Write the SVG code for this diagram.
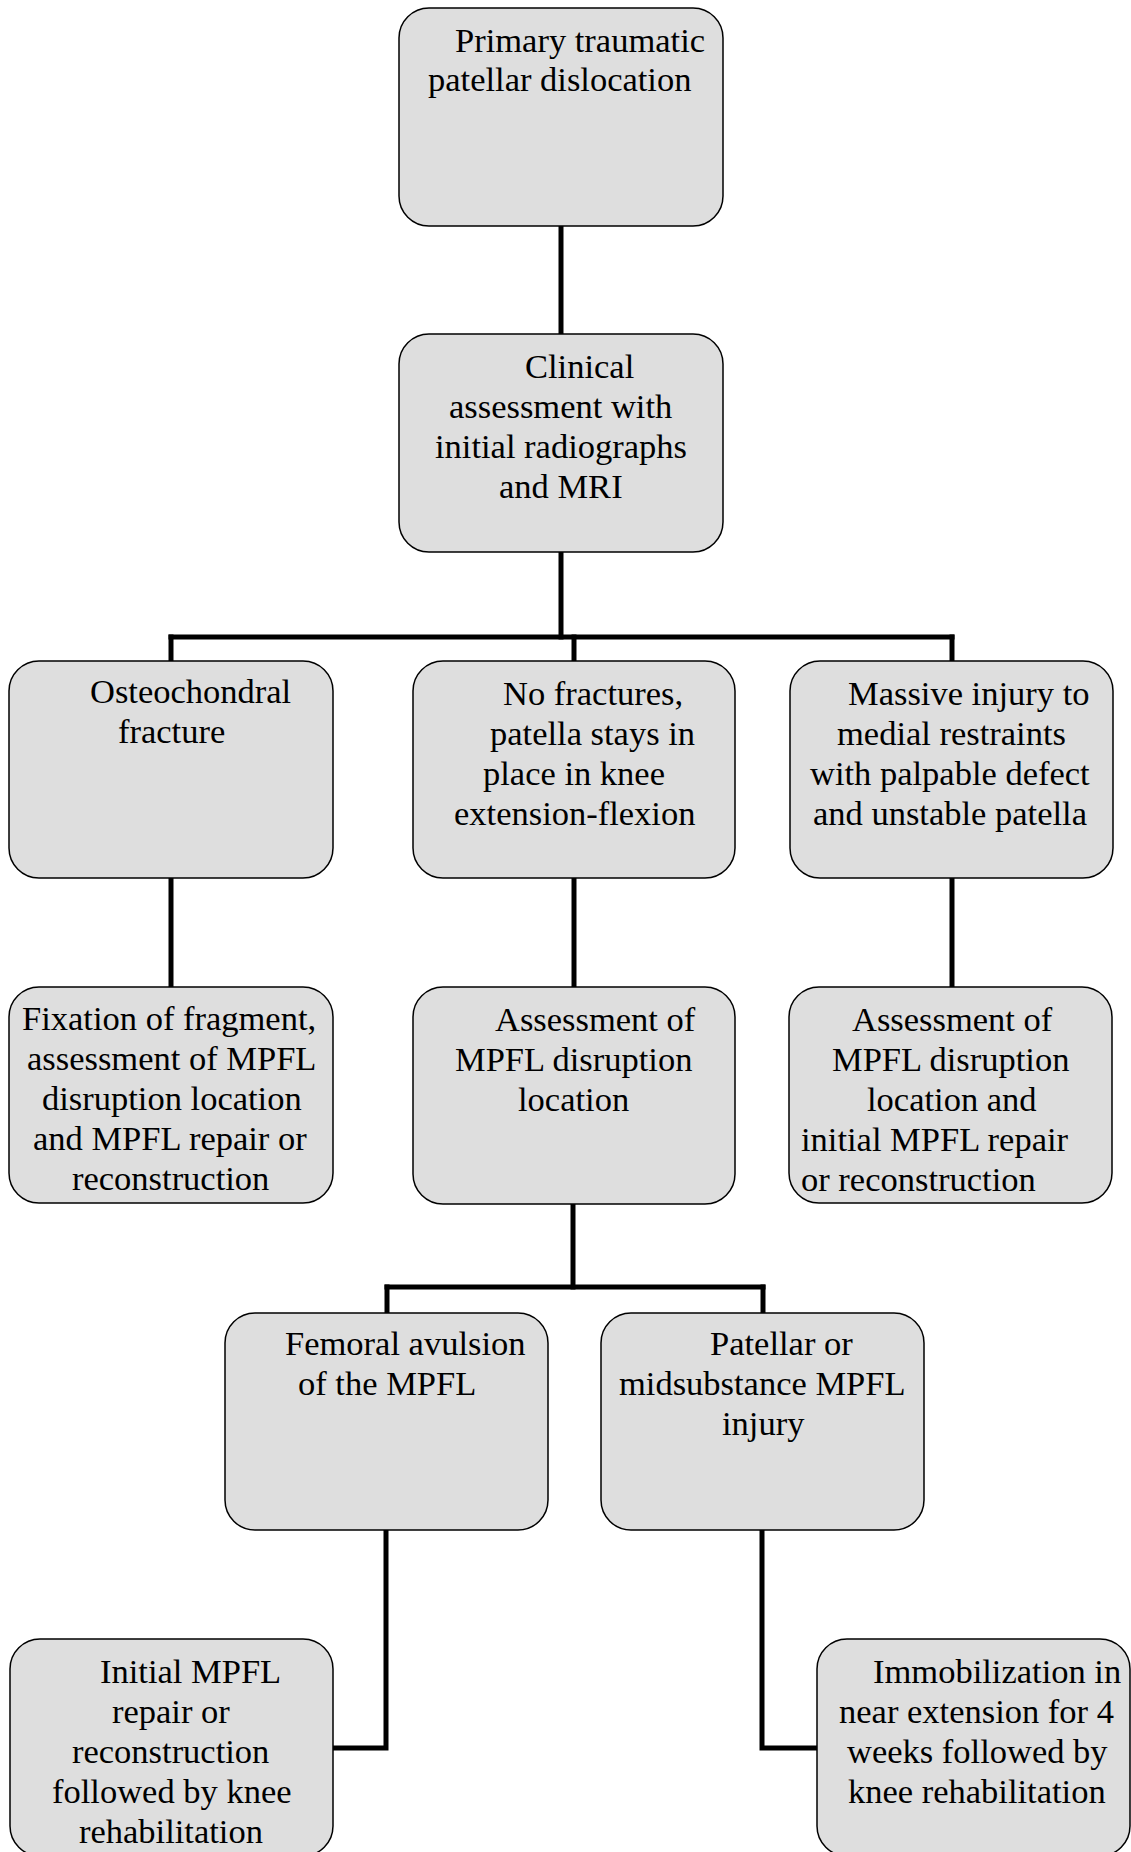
<svg xmlns="http://www.w3.org/2000/svg" width="1131" height="1852" viewBox="0 0 1131 1852">
<style>
.box{fill:#dedede;stroke:#000;stroke-width:1.5}
text{font-family:"Liberation Serif","Times New Roman",serif;font-size:34.5px;fill:#000}
.conn{fill:none;stroke:#000;stroke-width:5;stroke-linecap:square}
</style>
<rect width="1131" height="1852" fill="#fff"/>
<g id="connectors">
<path class="conn" d="M561 226 V334"/>
<path class="conn" d="M561 552 V637"/>
<path class="conn" d="M171 637 H952"/>
<path class="conn" d="M171 637 V661"/>
<path class="conn" d="M574 637 V661"/>
<path class="conn" d="M952 637 V661"/>
<path class="conn" d="M171 878 V987"/>
<path class="conn" d="M574 878 V987"/>
<path class="conn" d="M952 878 V987"/>
<path class="conn" d="M573 1204 V1287"/>
<path class="conn" d="M387 1287 H763"/>
<path class="conn" d="M387 1287 V1313"/>
<path class="conn" d="M763 1287 V1313"/>
<path class="conn" d="M386 1530 V1748 H333"/>
<path class="conn" d="M762 1530 V1748 H817"/>
</g>
<g id="n1">
<rect class="box" x="399" y="8" width="324" height="218" rx="30"/>
<text x="455" y="52">Primary traumatic</text>
<text x="428" y="91">patellar dislocation</text>
</g>
<g id="n2">
<rect class="box" x="399" y="334" width="324" height="218" rx="30"/>
<text x="525" y="378">Clinical</text>
<text x="449" y="418">assessment with</text>
<text x="435" y="458">initial radiographs</text>
<text x="499" y="498">and MRI</text>
</g>
<g id="n3">
<rect class="box" x="9" y="661" width="324" height="217" rx="30"/>
<text x="90" y="703">Osteochondral</text>
<text x="118" y="743">fracture</text>
</g>
<g id="n4">
<rect class="box" x="413" y="661" width="322" height="217" rx="30"/>
<text x="503" y="705">No fractures,</text>
<text x="490" y="745">patella stays in</text>
<text x="483" y="785">place in knee</text>
<text x="454" y="825">extension-flexion</text>
</g>
<g id="n5">
<rect class="box" x="790" y="661" width="323" height="217" rx="30"/>
<text x="848" y="705">Massive injury to</text>
<text x="837" y="745">medial restraints</text>
<text x="810" y="785">with palpable defect</text>
<text x="813" y="825">and unstable patella</text>
</g>
<g id="n6">
<rect class="box" x="9" y="987" width="324" height="216" rx="30"/>
<text x="22" y="1030">Fixation of fragment,</text>
<text x="27" y="1070">assessment of MPFL</text>
<text x="42" y="1110">disruption location</text>
<text x="33" y="1150">and MPFL repair or</text>
<text x="72" y="1190">reconstruction</text>
</g>
<g id="n7">
<rect class="box" x="413" y="987" width="322" height="217" rx="30"/>
<text x="495" y="1031">Assessment of</text>
<text x="455" y="1071">MPFL disruption</text>
<text x="518" y="1111">location</text>
</g>
<g id="n8">
<rect class="box" x="789" y="987" width="323" height="216" rx="30"/>
<text x="852" y="1031">Assessment of</text>
<text x="832" y="1071">MPFL disruption</text>
<text x="867" y="1111">location and</text>
<text x="801" y="1151">initial MPFL repair</text>
<text x="801" y="1191">or reconstruction</text>
</g>
<g id="n9">
<rect class="box" x="225" y="1313" width="323" height="217" rx="30"/>
<text x="285" y="1355">Femoral avulsion</text>
<text x="298" y="1395">of the MPFL</text>
</g>
<g id="n10">
<rect class="box" x="601" y="1313" width="323" height="217" rx="30"/>
<text x="710" y="1355">Patellar or</text>
<text x="619" y="1395">midsubstance MPFL</text>
<text x="722" y="1435">injury</text>
</g>
<g id="n11">
<rect class="box" x="10" y="1639" width="323" height="217" rx="30"/>
<text x="100" y="1683">Initial MPFL</text>
<text x="112" y="1723">repair or</text>
<text x="72" y="1763">reconstruction</text>
<text x="52" y="1803">followed by knee</text>
<text x="79" y="1843">rehabilitation</text>
</g>
<g id="n12">
<rect class="box" x="817" y="1639" width="313" height="217" rx="30"/>
<text x="873" y="1683">Immobilization in</text>
<text x="839" y="1723">near extension for 4</text>
<text x="847" y="1763">weeks followed by</text>
<text x="848" y="1803">knee rehabilitation</text>
</g>
</svg>
